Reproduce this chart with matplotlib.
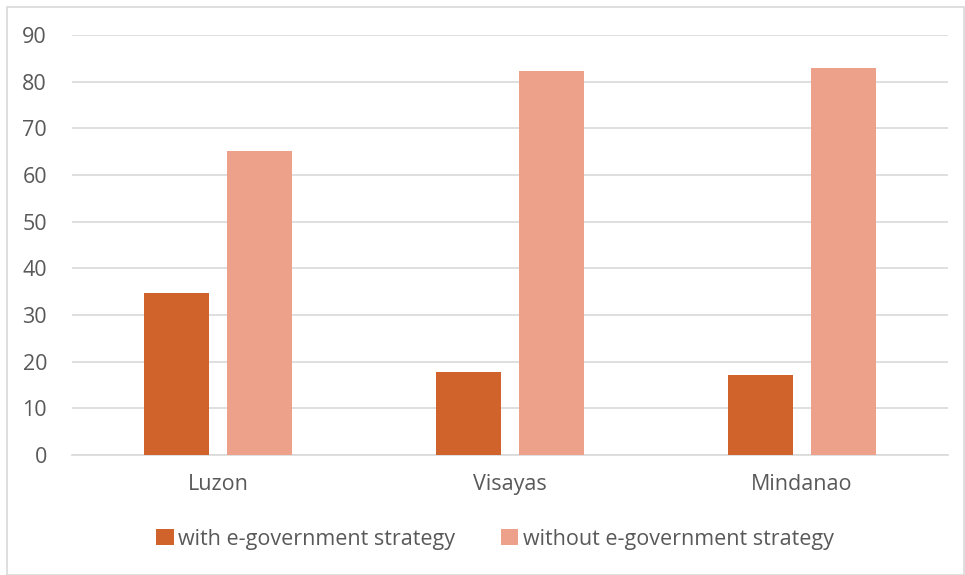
import matplotlib.pyplot as plt
import numpy as np
from matplotlib.patches import Rectangle

categories = ['Luzon', 'Visayas', 'Mindanao']
with_strategy = [34.8, 17.8, 17.1]
without_strategy = [65.2, 82.2, 82.9]
series_names = ['with e-government strategy', 'without e-government strategy']

COLOR_WITH = '#D0632B'
COLOR_WITHOUT = '#EDA08A'
TEXT = '#595959'

plt.rcParams['font.family'] = ['Open Sans', 'DejaVu Sans']

fig = plt.figure(figsize=(9.65, 5.75), dpi=100)
ax = fig.add_axes([72 / 965, 1 - 455 / 575, 876 / 965, 420 / 575])

# frame around the whole chart
fig.patches.append(Rectangle((7 / 965, 0.0), 1 - 7 / 965 - 1 / 965, 1 - 7 / 575,
                             transform=fig.transFigure, fill=False,
                             edgecolor='#D9D9D9', linewidth=1.2))

x = np.arange(len(categories))
w = 0.223
ax.bar(x - 0.142, with_strategy, w, color=COLOR_WITH, label=series_names[0], zorder=3)
ax.bar(x + 0.142, without_strategy, w, color=COLOR_WITHOUT, label=series_names[1], zorder=3)

ax.set_xlim(-0.5, 2.5)
ax.set_ylim(0, 90)
ax.set_yticks(range(0, 91, 10))
ax.set_xticks(x)
ax.set_xticklabels(categories)
ax.grid(axis='y', color='#D9D9D9', linewidth=1.2, zorder=0)
for s in ['top', 'right', 'left']:
    ax.spines[s].set_visible(False)
ax.spines['bottom'].set_color('#D9D9D9')
ax.spines['bottom'].set_linewidth(1.2)
ax.tick_params(axis='both', length=0, labelsize=15.5, labelcolor=TEXT)
ax.tick_params(axis='y', pad=18)
ax.tick_params(axis='x', pad=14)

fig.legend(loc='center', bbox_to_anchor=(495 / 965, 1 - 539 / 575), ncol=2, frameon=False,
           fontsize=15.5, labelcolor=TEXT, handlelength=0.8, handleheight=0.8,
           handletextpad=0.23, columnspacing=2.1)

fig.savefig('out.png', dpi=100)
